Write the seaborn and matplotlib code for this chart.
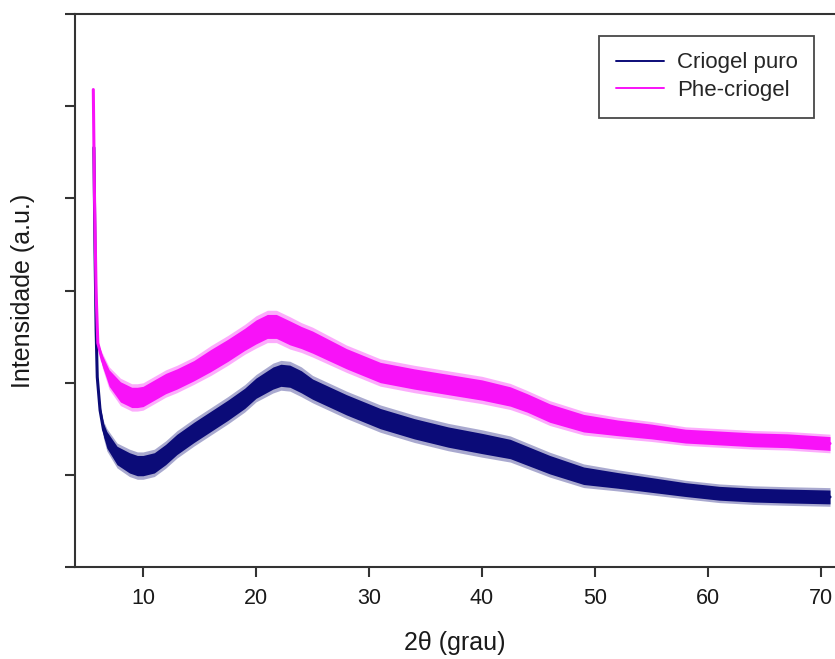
import numpy as np
import pandas as pd
import matplotlib
matplotlib.use("Agg")
import matplotlib.pyplot as plt
import seaborn as sns

# Diffractogram readings (2-theta in degrees, intensity in arbitrary units)
theta_puro = [5.65, 5.75, 5.85, 5.95, 6.2, 6.5, 6.8, 7.7, 8.8, 9.5, 10.0, 11.0, 12.0,
              13.0, 14.5, 16.0, 17.5, 19.0, 20.0, 21.5, 22.2, 23.0, 24.0, 25.0, 28.0,
              31.0, 34.0, 37.0, 40.0, 42.5, 46.0, 49.0, 52.0, 55.0, 58.0, 61.0, 64.0,
              67.0, 70.8]
int_puro = [4.55, 3.44, 2.57, 2.06, 1.70, 1.49, 1.38, 1.21, 1.13, 1.10, 1.10, 1.13, 1.22,
            1.33, 1.46, 1.58, 1.70, 1.83, 1.94, 2.05, 2.08, 2.07, 2.01, 1.93, 1.76,
            1.61, 1.50, 1.41, 1.34, 1.28, 1.11, 0.99, 0.94, 0.89, 0.84, 0.80, 0.78,
            0.77, 0.76]
spread_puro = [0.0, 0.0, 0.0, 0.0, 0.04, 0.07, 0.09, 0.10, 0.11, 0.11, 0.11, 0.11, 0.11,
               0.11, 0.11, 0.11, 0.11, 0.11, 0.11, 0.12, 0.12, 0.12, 0.12, 0.11, 0.11,
               0.11, 0.11, 0.11, 0.11, 0.105, 0.10, 0.095, 0.085, 0.08, 0.075, 0.075,
               0.075, 0.075, 0.075]

theta_phe = [5.6, 5.7, 5.85, 6.0, 6.4, 7.0, 8.0, 9.0, 9.5, 10.0, 11.0, 12.0, 13.0,
             14.5, 16.0, 17.5, 19.0, 20.0, 21.0, 21.8, 23.0, 24.0, 25.0, 28.0, 31.0,
             34.0, 37.0, 40.0, 42.5, 44.0, 46.0, 49.0, 52.0, 55.0, 58.0, 61.0, 64.0,
             67.0, 70.8]
int_phe = [5.18, 4.06, 2.97, 2.43, 2.24, 2.05, 1.90, 1.84, 1.84, 1.85, 1.92, 1.99, 2.04,
           2.13, 2.24, 2.35, 2.47, 2.55, 2.61, 2.61, 2.54, 2.49, 2.44, 2.26, 2.11,
           2.04, 1.98, 1.92, 1.85, 1.78, 1.67, 1.56, 1.51, 1.47, 1.42, 1.40, 1.38,
           1.37, 1.34]
spread_phe = [0.0, 0.0, 0.0, 0.0, 0.06, 0.09, 0.11, 0.11, 0.11, 0.11, 0.11, 0.11, 0.11,
              0.11, 0.12, 0.12, 0.12, 0.13, 0.13, 0.13, 0.13, 0.12, 0.12, 0.11, 0.11,
              0.11, 0.11, 0.11, 0.105, 0.10, 0.10, 0.095, 0.085, 0.08, 0.075, 0.075,
              0.075, 0.075, 0.075]

labels = ["Criogel puro", "Phe-criogel"]
colors = {"Criogel puro": "#0B0B78", "Phe-criogel": "#F812F8"}

x_ticks = [10, 20, 30, 40, 50, 60, 70]

df = pd.concat([
    pd.DataFrame({"two_theta": theta_puro, "intensidade": int_puro,
                  "spread": spread_puro, "amostra": labels[0]}),
    pd.DataFrame({"two_theta": theta_phe, "intensidade": int_phe,
                  "spread": spread_phe, "amostra": labels[1]}),
], ignore_index=True)

sns.set_theme(style="ticks")
plt.rcParams["font.family"] = ["Liberation Sans", "DejaVu Sans"]

fig = plt.figure(figsize=(8.35, 6.59), dpi=100)
ax = fig.add_axes([75 / 835, 92 / 659, 760 / 835, 553 / 659])

# scattered-point band around each pattern
for name in labels:
    d = df[df["amostra"] == name]
    x = d["two_theta"].to_numpy()
    y = d["intensidade"].to_numpy()
    s = d["spread"].to_numpy()
    ax.fill_between(x, y - 1.35 * s, y + 1.35 * s, color=colors[name], alpha=0.35,
                    linewidth=0)
    ax.fill_between(x, y - s, y + s, color=colors[name], alpha=1.0, linewidth=0)

sns.lineplot(data=df, x="two_theta", y="intensidade", hue="amostra",
             palette=colors, hue_order=labels, sort=False, estimator=None,
             linewidth=2.2, ax=ax, legend=False)

ax.set_xlim(3.98, 71.24)
ax.set_ylim(0, 6)
ax.set_xticks(x_ticks)
ax.set_xticklabels([str(t) for t in x_ticks])
ax.set_yticks(range(0, 7))
ax.set_yticklabels([])

for side in ["left", "top", "bottom"]:
    ax.spines[side].set_color("#333333")
    ax.spines[side].set_linewidth(1.5)
ax.spines["right"].set_visible(False)
ax.tick_params(axis="both", direction="out", length=7, width=1.5, color="#333333")
ax.tick_params(axis="x", labelsize=15.5, pad=8, labelcolor="#1a1a1a")

ax.set_xlabel("2θ (grau)", fontsize=18, labelpad=16, color="#1a1a1a")
ax.set_ylabel("Intensidade (a.u.)", fontsize=18, labelpad=18, color="#1a1a1a")

handles = [plt.Line2D([], [], color=colors[n], linewidth=1.4) for n in labels]
leg = ax.legend(handles, labels, loc="upper right", bbox_to_anchor=(0.9727, 0.9608),
                fontsize=16, frameon=True, fancybox=False, handlelength=2.2,
                handletextpad=0.55, borderpad=0.75, labelspacing=0.3, borderaxespad=0)
leg.get_frame().set_edgecolor("#1a1a1a")
leg.get_frame().set_linewidth(1.3)

fig.savefig("out.png", dpi=100)
